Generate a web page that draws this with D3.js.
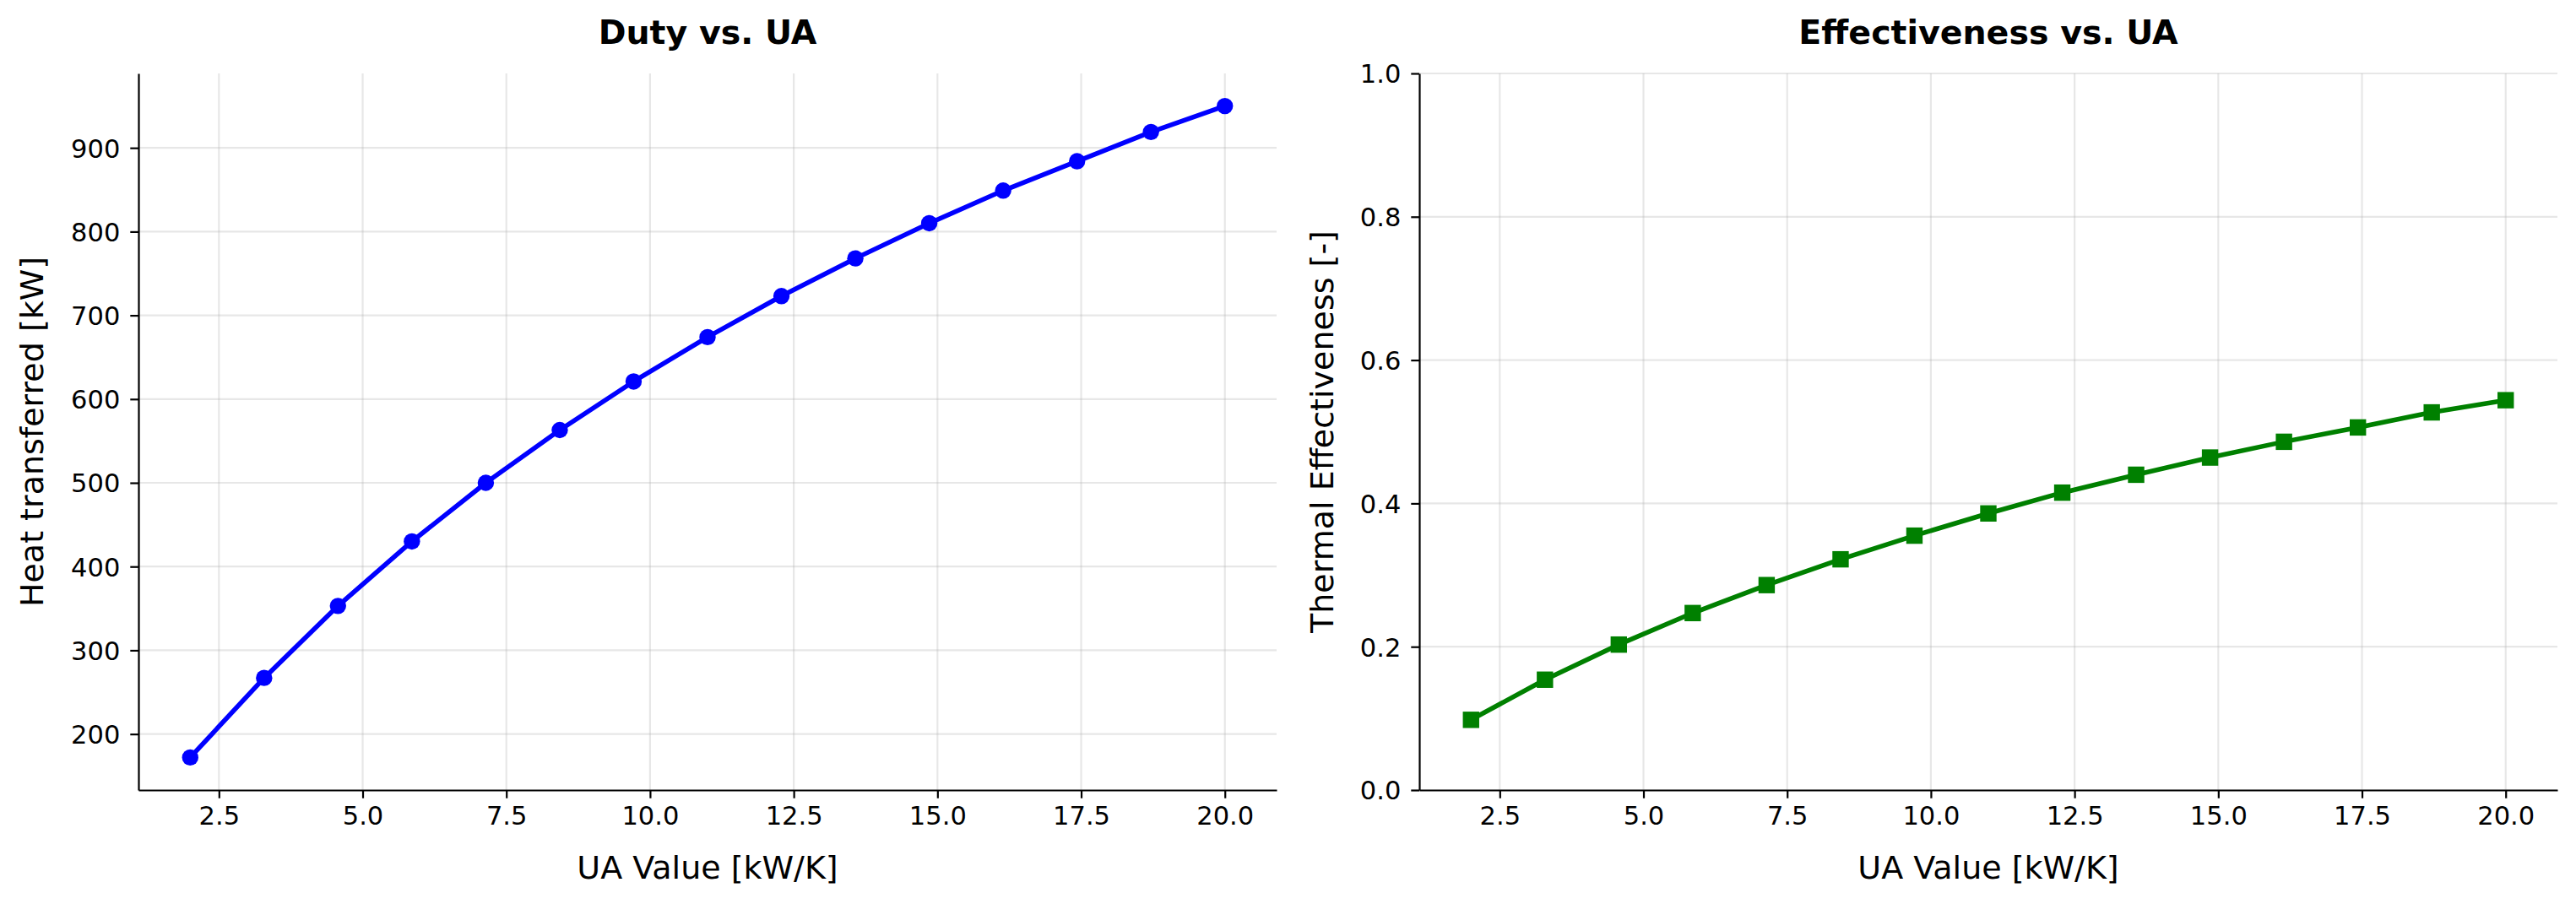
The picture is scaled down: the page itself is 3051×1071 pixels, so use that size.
<!DOCTYPE html>
<html>
<head>
<meta charset="utf-8">
<script src="https://cdn.jsdelivr.net/npm/d3@7"></script>
<style>
  html, body { margin: 0; padding: 0; background: #fff; }
  svg { display: block; font-family: "DejaVu Sans", sans-serif; }
  .tick text { font-size: 30.5px; fill: #000; }
  .axis-label { font-size: 38px; fill: #000; }
  .panel-title { font-size: 39.5px; font-weight: bold; fill: #000; }
  .grid line { stroke: #b0b0b0; stroke-opacity: 0.3; stroke-width: 2.2px; }
</style>
</head>
<body>
<div id="chart"></div>
<script>
// UA sweep values [kW/K]
const uaValues = [2.0, 3.286, 4.571, 5.857, 7.143, 8.429, 9.714, 11.0,
  12.286, 13.571, 14.857, 16.143, 17.429, 18.714, 20.0];

// Heat transferred [kW]
const dutyValues = [172, 267, 353, 430, 500, 563, 621, 674,
  723, 768, 810, 849, 884, 919, 950];

// Thermal effectiveness [-]
const effValues = [0.098, 0.154, 0.203, 0.247, 0.286, 0.322, 0.355, 0.386,
  0.415, 0.440, 0.464, 0.486, 0.506, 0.527, 0.544];

const xTicks = [2.5, 5.0, 7.5, 10.0, 12.5, 15.0, 17.5, 20.0];
const dutyTicks = [200, 300, 400, 500, 600, 700, 800, 900];
const effTicks = [0.0, 0.2, 0.4, 0.6, 0.8, 1.0];

const W = 3051, H = 1071;

const svg = d3.select("#chart").append("svg")
  .attr("width", W)
  .attr("height", H)
  .attr("viewBox", `0 0 ${W} ${H}`);

// matplotlib-like 5% margins
function padded(ext) {
  const m = (ext[1] - ext[0]) * 0.05;
  return [ext[0] - m, ext[1] + m];
}

const panels = [
  {
    left: 164, right: 1512, top: 87, bottom: 936,
    title: "Duty vs. UA",
    ylabel: "Heat transferred [kW]",
    ylabelX: 51,
    values: dutyValues,
    yDomain: padded(d3.extent(dutyValues)),
    yTicks: dutyTicks,
    yFormat: d3.format("d"),
    color: "#0000ff",
    marker: "circle"
  },
  {
    left: 1681, right: 3029, top: 87, bottom: 936,
    title: "Effectiveness vs. UA",
    ylabel: "Thermal Effectiveness [-]",
    ylabelX: 1579,
    values: effValues,
    yDomain: [0, 1],
    yTicks: effTicks,
    yFormat: d3.format(".1f"),
    color: "#008000",
    marker: "square"
  }
];

panels.forEach(p => {
  const x = d3.scaleLinear()
    .domain(padded(d3.extent(uaValues)))
    .range([p.left, p.right]);

  const y = d3.scaleLinear()
    .domain(p.yDomain)
    .range([p.bottom, p.top]);

  const g = svg.append("g");

  // grid
  const grid = g.append("g").attr("class", "grid");
  grid.selectAll(".gx")
    .data(xTicks)
    .join("line")
    .attr("x1", d => x(d)).attr("x2", d => x(d))
    .attr("y1", p.top).attr("y2", p.bottom);
  grid.selectAll(".gy")
    .data(p.yTicks)
    .join("line")
    .attr("class", "gy")
    .attr("x1", p.left).attr("x2", p.right)
    .attr("y1", d => y(d)).attr("y2", d => y(d));

  // axes
  const xAxis = g.append("g")
    .attr("transform", `translate(0,${p.bottom})`)
    .call(d3.axisBottom(x)
      .tickValues(xTicks)
      .tickFormat(d3.format(".1f"))
      .tickSize(9.7)
      .tickPadding(10)
      .tickSizeOuter(0));

  const yAxis = g.append("g")
    .attr("transform", `translate(${p.left},0)`)
    .call(d3.axisLeft(y)
      .tickValues(p.yTicks)
      .tickFormat(p.yFormat)
      .tickSize(9.7)
      .tickPadding(12)
      .tickSizeOuter(0));

  [xAxis, yAxis].forEach(ax => {
    ax.attr("font-family", null).attr("font-size", null);
    ax.select(".domain").attr("stroke", "#000").attr("stroke-width", 2.2);
    ax.selectAll(".tick line").attr("stroke", "#000").attr("stroke-width", 2.2);
  });
  yAxis.selectAll(".tick text").attr("dy", "0.36em");

  // line
  const line = d3.line()
    .x((d, i) => x(uaValues[i]))
    .y(d => y(d));

  g.append("path")
    .datum(p.values)
    .attr("fill", "none")
    .attr("stroke", p.color)
    .attr("stroke-width", 5.6)
    .attr("stroke-linejoin", "round")
    .attr("stroke-linecap", "square")
    .attr("d", line);

  // markers
  if (p.marker === "circle") {
    g.selectAll(".pt")
      .data(p.values)
      .join("circle")
      .attr("cx", (d, i) => x(uaValues[i]))
      .attr("cy", d => y(d))
      .attr("r", 9.7)
      .attr("fill", p.color);
  } else {
    const s = 19.4;
    g.selectAll(".pt")
      .data(p.values)
      .join("rect")
      .attr("x", (d, i) => x(uaValues[i]) - s / 2)
      .attr("y", d => y(d) - s / 2)
      .attr("width", s)
      .attr("height", s)
      .attr("fill", p.color);
  }

  // titles and labels
  const cx = (p.left + p.right) / 2;

  g.append("text")
    .attr("class", "panel-title")
    .attr("x", cx)
    .attr("y", 52)
    .attr("text-anchor", "middle")
    .text(p.title);

  g.append("text")
    .attr("class", "axis-label")
    .attr("x", cx)
    .attr("y", 1041)
    .attr("text-anchor", "middle")
    .text("UA Value [kW/K]");

  g.append("text")
    .attr("class", "axis-label")
    .attr("transform", `translate(${p.ylabelX},${(p.top + p.bottom) / 2}) rotate(-90)`)
    .attr("text-anchor", "middle")
    .text(p.ylabel);
});
</script>
</body>
</html>
